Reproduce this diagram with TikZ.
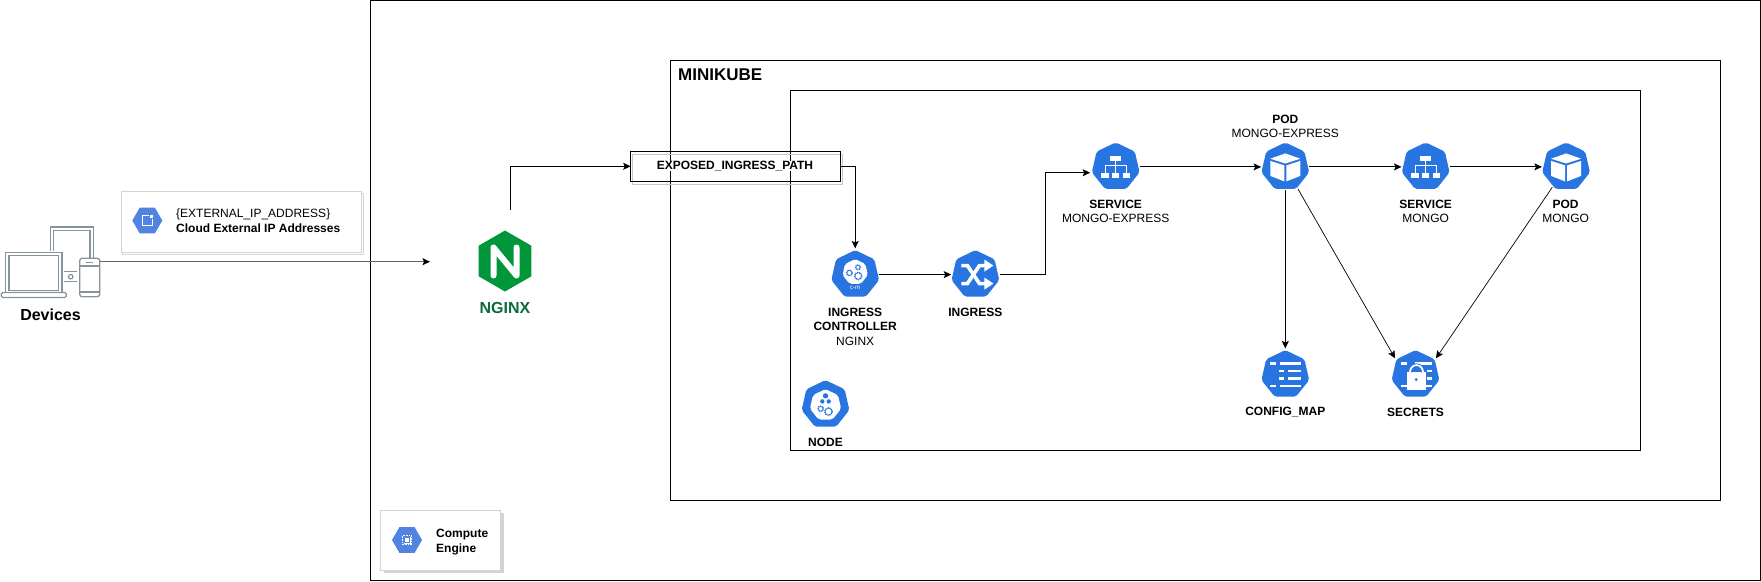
\documentclass[tikz,border=0pt]{standalone}
\usepackage{fontspec}
\setmainfont{Liberation Sans}
\usepackage{xcolor}
\usetikzlibrary{arrows.meta,shapes.geometric,calc}
\definecolor{k8sblue}{HTML}{2875E2}
\definecolor{gcpblue}{HTML}{5184E0}
\definecolor{nginxgreen}{HTML}{009639}
\definecolor{nginxtext}{HTML}{0B6B3A}
\definecolor{devicegray}{HTML}{87939A}
\definecolor{cardgray}{HTML}{D4D4D4}
\newcommand{\gearglyph}[3]{%
 \draw[k8sblue,line width=0.6] (#1,#2) circle [radius=#3];
 \draw[k8sblue,line width=1.1,dash pattern=on 0.9pt off 0.9pt] (#1,#2) circle [radius={#3+0.6}];
}
\newcommand{\barglyph}[3]{\fill[white] (#1,#3-1.2) rectangle (#2,#3+1.2);}
\tikzset{
 frame/.style={draw=black,line width=1pt,fill=none,inner sep=0pt,outer sep=0pt},
 k8sicon/.style={regular polygon,regular polygon sides=7,minimum size=49pt,fill=k8sblue,rounded corners=2pt,inner sep=0pt,outer sep=1.5pt},
 gcphex/.style={regular polygon,regular polygon sides=6,minimum size=30pt,fill=gcpblue,inner sep=0pt},
 itemlabel/.style={align=center,font=\fontsize{12}{14.5}\selectfont,inner sep=0pt},
 cardbox/.style={draw=cardgray,line width=0.8pt,fill=white,inner sep=0pt},
 link/.style={->,line width=1pt},
 devline/.style={draw=devicegray,line width=1.3pt,double=white,double distance=2pt},
 podglyph/.pic={
  \fill[white] (0,-13.5) -- (15,-8.2) -- (0,-3.4) -- (-15,-8.2) -- cycle;
  \fill[white] (-15,-6) -- (-1,-1.5) -- (-1,14.5) -- (-15,9) -- cycle;
  \fill[white] (15,-6) -- (1,-1.5) -- (1,14.5) -- (15,9) -- cycle;
 },
 serviceglyph/.pic={
  \fill[white] (-5.5,-11) rectangle (5.5,-6);
  \draw[white,line width=0.9] (0,-6) -- (0,5.7) (-10.5,5.7) -- (-10.5,-1.5) -- (10.5,-1.5) -- (10.5,5.7);
  \fill[white] (-14.5,5.7) rectangle (-7,11);
  \fill[white] (-3.7,5.7) rectangle (3.7,11);
  \fill[white] (7,5.7) rectangle (14.5,11);
 },
 configglyph/.pic={
  \barglyph{-15}{-9}{-11.3} \barglyph{-5.3}{16}{-11.3}
  \barglyph{-6.3}{-1.3}{-3.7} \barglyph{2.7}{16}{-3.7}
  \barglyph{-6.3}{-1.3}{3.7} \barglyph{2.7}{16}{3.7}
  \barglyph{-15}{-9}{11.3} \barglyph{-5.3}{16}{11.3}
 },
 secretglyph/.pic={
  \barglyph{-15}{-9}{-11.3} \barglyph{-1}{16}{-11.3}
  \barglyph{11}{16}{-3.7} \barglyph{11}{16}{3.7}
  \barglyph{-15}{-9}{11.3} \barglyph{10}{16}{11.3}
  \fill[white] (-9,-2.3) rectangle (10.5,15);
  \draw[k8sblue,line width=3.6] (-5.5,-2.5) arc [start angle=180,end angle=360,x radius=6.5,y radius=7];
  \draw[white,line width=1.8] (-5.5,-2.5) arc [start angle=180,end angle=360,x radius=6.5,y radius=7];
  \fill[k8sblue] (0.7,5) circle [radius=1.6];
 },
 shuffleglyph/.pic={
  \draw[white,line width=3.6] (-14,-9) -- (-8,-9) -- (4,9) -- (10,9);
  \draw[white,line width=3.6] (-14,9) -- (-8,9) -- (4,-9) -- (10,-9);
  \fill[white] (9,-15) -- (18,-9) -- (9,-3) -- cycle;
  \fill[white] (9,3) -- (18,9) -- (9,15) -- cycle;
 },
 ctrlglyph/.pic={
  \node[regular polygon,regular polygon sides=7,minimum size=26pt,fill=white,rounded corners=2pt,inner sep=0pt] (#1blob) at (0,-2.5) {};
  \gearglyph{-5.8}{-1.7}{2.4}
  \gearglyph{2.7}{-7.3}{2}
  \gearglyph{3}{1.4}{3.2}
  \node[text=white,inner sep=0pt,font=\fontsize{6}{6}\selectfont] (#1cm) at (0,13) {c-m};
 },
 nodeglyph/.pic={
  \node[regular polygon,regular polygon sides=7,minimum size=32pt,fill=white,rounded corners=2pt,inner sep=0pt] (#1blob) at (0,0.5) {};
  \fill[k8sblue] (0,-11.5) -- (2.5,-10) -- (2.5,-7.5) -- (0,-6) -- (-2.5,-7.5) -- (-2.5,-10) -- cycle;
  \fill[k8sblue] (-3.2,-3.2) circle [radius=2.2];
  \fill[k8sblue] (3.2,-3.2) circle [radius=2.2];
  \gearglyph{-4.8}{4.2}{2.3}
  \gearglyph{3}{7}{3.4}
 },
}
\begin{document}
\begin{tikzpicture}[x=1pt,y=-1pt,>={Stealth[length=7.5pt,width=7pt,inset=1.5pt]}]
 \useasboundingbox (0,0) rectangle (1761,581);

 %Drawing frames
 \node (computer) [frame,minimum width=1390pt,minimum height=579.5pt] at (1065.5,290.25) {};
 \node (minikube) [frame,minimum width=1050pt,minimum height=439.5pt] at (1195.5,280.5) {};
 \node (nodebox) [frame,minimum width=850pt,minimum height=359.5pt] at (1215.5,270.7) {};
 \node (labelminikube) [anchor=west,inner sep=0pt,font=\fontsize{17}{20}\selectfont\bfseries] at (678,74.5) {MINIKUBE};

 %Drawing ingress path box
 \node (exposedshadow) [draw=black!22,line width=0.8pt,minimum width=210pt,minimum height=30pt,inner sep=0pt] at (737.7,169.3) {};
 \node (exposed) [frame,minimum width=210pt,minimum height=30pt] at (735.7,166.3) {};
 \node (labelexposed) [itemlabel,fill=white] at (735,166) {\textbf{EXPOSED\_INGRESS\_PATH}};

 %Drawing devices
 \draw[devline] (52,251) -- (52,228.5) -- (91.5,228.5) -- (91.5,258);
 \node (laptop) [draw=devicegray,line width=1.3pt,double=white,double distance=2pt,minimum width=53pt,minimum height=38pt,inner sep=0pt] at (33.7,273) {};
 \node (laptopbase) [draw=devicegray,line width=1.3pt,fill=white,rounded corners=1.5pt,minimum width=65pt,minimum height=5pt,inner sep=0pt] at (33.8,295) {};
 \node (phone) [draw=devicegray,line width=1.3pt,fill=white,rounded corners=2.5pt,minimum width=20pt,minimum height=38.5pt,inner sep=0pt] at (89.7,277.5) {};
 \draw[devicegray,line width=1.3pt] (phone.west |- 0,266) -- (phone.east |- 0,266) (phone.west |- 0,292) -- (phone.east |- 0,292);
 \draw[devicegray,line width=1.3pt] (64,271.7) -- (77,271.7) (64,281.7) -- (77,281.7);
 \node (devicedot) [circle,draw=devicegray,line width=1.2pt,minimum size=4.5pt,inner sep=0pt] at (70.7,276.7) {};
 \fill[devicegray] (86,261.5) rectangle (93,263);
 \node (labeldevices) [inner sep=0pt,font=\fontsize{16}{19}\selectfont\bfseries] at (50.5,314.5) {Devices};

 %Drawing external address card
 \node (ipshadow) [cardbox,minimum width=241pt,minimum height=61pt] at (243,224) {};
 \node (ipcard) [cardbox,minimum width=240pt,minimum height=61pt] at (241,222) {};
 \node (iphex) [gcphex] at (147.3,220.5) {};
 \fill[white] (142,215) rectangle (152.7,226);
 \fill[gcpblue] (143,216) rectangle (151.7,225);
 \fill[gcpblue] (148.5,214) rectangle (154,219);
 \fill[white] (150,215) rectangle (152.7,217.7);
 \node (labelip) [itemlabel,anchor=west,align=left] at (176,220.7) {\{EXTERNAL\_IP\_ADDRESS\}\\\textbf{Cloud External IP Addresses}};

 %Drawing compute card
 \node (computeshadow) [fill=cardgray,minimum width=120pt,minimum height=60pt,inner sep=0pt] at (443.5,543) {};
 \node (computecard) [cardbox,minimum width=120pt,minimum height=60pt] at (440.7,540) {};
 \node (computehex) [gcphex] at (407,540) {};
 \draw[white,line width=1.2,dash pattern=on 0.8pt off 0.8pt] (402.5,535.5) rectangle (411.5,544.5);
 \fill[white] (403.5,536.5) rectangle (410.5,543.5);
 \fill[gcpblue] (404.3,537.3) rectangle (409.7,542.7);
 \fill[white] (405.2,538.2) rectangle (408.8,541.8);
 \node (labelcompute) [itemlabel,anchor=west,align=left] at (436,542) {\textbf{Compute}\\\textbf{Engine}};

 %Drawing nginx
 \node (nginx) [regular polygon,regular polygon sides=6,shape border rotate=30,minimum size=61pt,fill=nginxgreen,inner sep=0pt] at (505,261) {};
 \draw[white,line width=6pt,line join=round,line cap=round] (493.5,275.5) -- (493.5,247.5) -- (516.5,275.5) -- (516.5,247.5);
 \node (labelnginx) [inner sep=0pt,text=nginxtext,font=\fontsize{16}{19}\selectfont\bfseries] at (505,308) {NGINX};

 %Drawing icons
 \node (ctrl) [k8sicon] at (855.2,274.6) {};
 \pic at (ctrl) {ctrlglyph=ctrl};
 \node (ingress) [k8sicon] at (975.4,274.6) {};
 \pic at (ingress) {shuffleglyph};
 \node (svcexpress) [k8sicon] at (1115.7,166.9) {};
 \pic at (svcexpress) {serviceglyph};
 \node (podexpress) [k8sicon] at (1285.3,166.9) {};
 \pic at (podexpress) {podglyph};
 \node (svcmongo) [k8sicon] at (1425.7,166.9) {};
 \pic at (svcmongo) {serviceglyph};
 \node (podmongo) [k8sicon] at (1566.1,166.9) {};
 \pic at (podmongo) {podglyph};
 \node (configmap) [k8sicon] at (1285.3,374.6) {};
 \pic at (configmap) {configglyph};
 \node (secrets) [k8sicon] at (1415.5,374.6) {};
 \pic at (secrets) {secretglyph};
 \node (nodeicon) [k8sicon] at (825.5,404.6) {};
 \pic at (nodeicon) {nodeglyph=nodeicon};

 %Drawing labels
 \node (labelctrl) [itemlabel] at (855.2,326.7) {\textbf{INGRESS}\\\textbf{CONTROLLER}\\NGINX};
 \node (labelingress) [itemlabel] at (975.4,312) {\textbf{INGRESS}};
 \node (labelsvcexpress) [itemlabel] at (1115.7,211.6) {\textbf{SERVICE}\\MONGO-EXPRESS};
 \node (labelpodexpress) [itemlabel] at (1285.3,126.3) {\textbf{POD}\\MONGO-EXPRESS};
 \node (labelsvcmongo) [itemlabel] at (1425.7,211.6) {\textbf{SERVICE}\\MONGO};
 \node (labelpodmongo) [itemlabel] at (1565.6,211.6) {\textbf{POD}\\MONGO};
 \node (labelconfigmap) [itemlabel] at (1285.3,412) {\textbf{CONFIG\_MAP}};
 \node (labelsecrets) [itemlabel] at (1415.5,412) {\textbf{SECRETS}};
 \node (labelnode) [itemlabel] at (825.5,442) {\textbf{NODE}};

 %Drawing connectors
 \coordinate (nginxin) at (430,261.7);
 \coordinate (nginxout) at (510,210);
 \draw[draw=black!60,line width=1.4pt,-{Stealth[length=7.5pt,width=7pt,inset=1.5pt,black]}] (phone.east |- nginxin) -- (nginxin);
 \draw[link] (nginxout) |- (exposed.west);
 \draw[link] (exposed.east) -| (ctrl.north);
 \draw[link] (ctrl.east) -- (ingress.west);
 \draw[link] (ingress.east) -- ++(45.5,0) |- (svcexpress.corner 3);
 \draw[link] (svcexpress.east) -- (podexpress.west);
 \draw[link] (podexpress.east) -- (svcmongo.west);
 \draw[link] (svcmongo.east) -- (podmongo.west);
 \draw[link] (podexpress.south) -- (configmap.north);
 \draw[->,line width=0.7pt] (podexpress) -- (secrets.corner 2);
 \draw[->,line width=0.7pt] (podmongo) -- (secrets.corner 7);
\end{tikzpicture}
\end{document}
